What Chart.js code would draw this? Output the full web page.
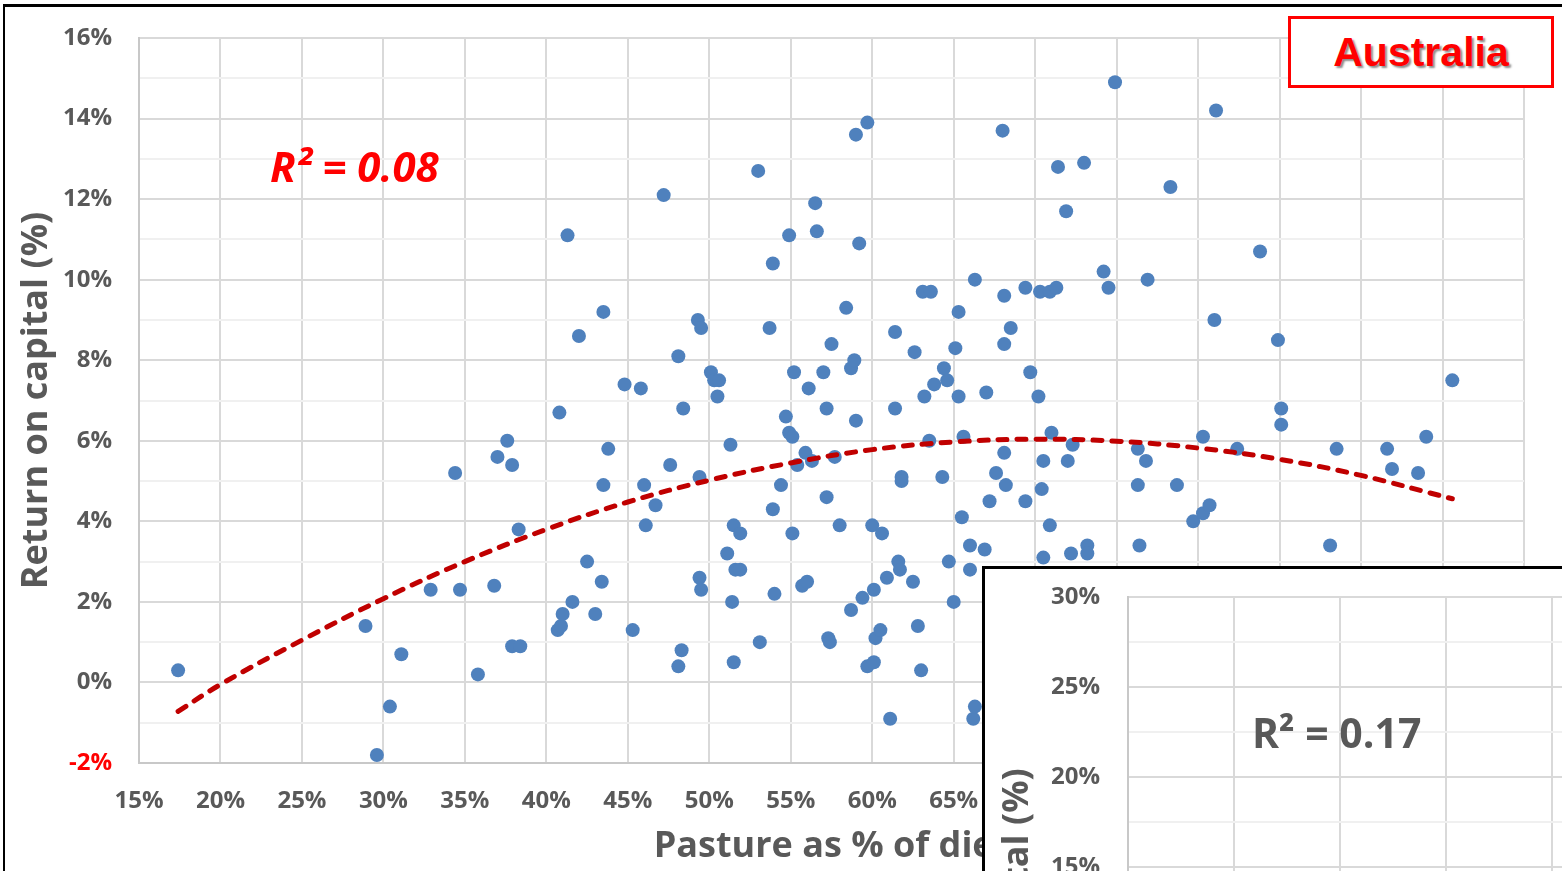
<!DOCTYPE html>
<html>
<head>
<meta charset="utf-8">
<title>Australia - pasture share vs return on capital</title>
<script src="https://cdn.jsdelivr.net/npm/chart.js@4.4.1/dist/chart.umd.min.js"></script>
<style>
  html, body { margin: 0; padding: 0; background: #fff; overflow: hidden; }
  body { width: 1562px; height: 871px; position: relative; font-family: "Open Sans", sans-serif; }
  #main { position: absolute; left: 0; top: 0; }
  #frame { position: absolute; left: 3px; top: 4px; width: 1700px; height: 1000px;
           border-left: 2px solid #000; border-top: 3px solid #000; pointer-events: none; }
  #country { position: absolute; left: 1288px; top: 16px; width: 260px; height: 66px;
             border: 3px solid #f00; background: #fff; display: flex; align-items: center; justify-content: center;
             font-family: "Liberation Sans", Arial, sans-serif; font-weight: bold; font-size: 41px; color: #f00;
             text-shadow: 2px 2px 2px rgba(0,0,0,0.45); }
  #r2main { position: absolute; left: 270px; top: 141px; line-height: 50px; font-size: 42px;
            font-weight: bold; font-style: italic; color: #f00; white-space: nowrap; }
  #inset { position: absolute; left: 982px; top: 566px; width: 700px; height: 400px; overflow: hidden;
           border-left: 3px solid #000; border-top: 3px solid #000; background: #fff; }
  #insetChart { position: absolute; left: 0; top: 0; }
  #r2inset { position: absolute; left: 1252px; top: 707px; line-height: 50px; font-size: 41px;
             font-weight: bold; color: #595959; white-space: nowrap; }
</style>
</head>
<body>
<canvas id="main" width="1562" height="871"></canvas>
<div id="frame"></div>
<div id="country">Australia</div>
<div id="r2main">R² = 0.08</div>
<div id="inset"><canvas id="insetChart" width="1570" height="871"></canvas></div>
<div id="r2inset">R² = 0.17</div>
<script>
// Pasture as % of diet (x) and return on capital % (y)
var pastureShare = [
  17.4, 28.9, 29.6, 30.4, 31.1, 32.9, 34.4, 34.7, 35.8, 36.8,
  37.0, 37.6, 37.9, 37.9, 38.3, 38.4, 40.7, 40.8, 40.9, 41.0,
  41.3, 41.6, 42.0, 42.5, 43.0, 43.4, 43.5, 43.5, 43.8, 44.8,
  45.3, 45.8, 46.0, 46.1, 46.7, 47.2, 47.6, 48.1, 48.1, 48.3,
  48.4, 49.3, 49.4, 49.5, 49.4, 49.5, 50.1, 50.3, 50.6, 50.5,
  51.1, 51.3, 51.4, 51.5, 51.5, 51.6, 51.9, 51.9, 53.0, 53.1,
  53.7, 53.9, 53.9, 54.0, 54.4, 54.7, 54.9, 54.9, 55.1, 55.1,
  55.2, 55.4, 55.7, 55.9, 56.0, 56.1, 56.3, 56.5, 56.6, 57.0,
  57.2, 57.2, 57.3, 57.4, 57.5, 57.7, 58.0, 58.4, 58.7, 58.7,
  58.9, 59.0, 59.0, 59.2, 59.4, 59.7, 59.7, 60.0, 60.1, 60.2,
  60.5, 60.1, 60.6, 60.9, 61.1, 61.4, 61.4, 61.6, 61.7, 61.8,
  61.8, 62.5, 62.6, 62.8, 63.0, 63.1, 63.2, 63.5, 63.6, 63.8,
  64.3, 64.4, 64.6, 64.7, 65.0, 65.1, 65.3, 65.3, 65.5, 65.6,
  66.0, 66.0, 66.2, 66.3, 66.3, 66.9, 67.0, 67.2, 67.6, 68.0,
  68.1, 68.1, 68.1, 68.2, 68.5, 69.4, 69.4, 69.7, 70.2, 70.3,
  70.4, 70.5, 70.5, 70.9, 70.9, 71.0, 71.3, 71.4, 71.9, 72.0,
  72.2, 72.3, 73.0, 73.2, 73.2, 74.2, 74.5, 74.9, 76.3, 76.3,
  76.4, 76.8, 76.9, 78.3, 78.7, 79.7, 80.3, 80.3, 80.7, 81.0,
  81.1, 82.4, 83.8, 84.9, 85.1, 85.1, 88.1, 88.5, 91.6, 91.9,
  93.5, 94.0, 95.6
];
var returnOnCapital = [
  0.3, 1.4, -1.8, -0.6, 0.7, 2.3, 5.2, 2.3, 0.2, 2.4,
  5.6, 6.0, 5.4, 0.9, 3.8, 0.9, 1.3, 6.7, 1.4, 1.7,
  11.1, 2.0, 8.6, 3.0, 1.7, 2.5, 9.2, 4.9, 5.8, 7.4,
  1.3, 7.3, 4.9, 3.9, 4.4, 12.1, 5.4, 8.1, 0.4, 0.8,
  6.8, 9.0, 2.6, 2.3, 5.1, 8.8, 7.7, 7.5, 7.5, 7.1,
  3.2, 5.9, 2.0, 3.9, 0.5, 2.8, 2.8, 3.7, 12.7, 1.0,
  8.8, 10.4, 4.3, 2.2, 4.9, 6.6, 6.2, 11.1, 3.7, 6.1,
  7.7, 5.4, 2.4, 5.7, 2.5, 7.3, 5.5, 11.9, 11.2, 7.7,
  6.8, 4.6, 1.1, 1.0, 8.4, 5.6, 3.9, 9.3, 7.8, 1.8,
  8.0, 6.5, 13.6, 10.9, 2.1, 0.4, 13.9, 3.9, 0.5, 1.1,
  1.3, 2.3, 3.7, 2.6, -0.9, 8.7, 6.8, 3.0, 2.8, 5.1,
  5.0, 2.5, 8.2, 1.4, 0.3, 9.7, 7.1, 6.0, 9.7, 7.4,
  5.1, 7.8, 7.5, 3.0, 2.0, 8.3, 7.1, 9.2, 4.1, 6.1,
  3.4, 2.8, -0.9, -0.6, 10.0, 3.3, 7.2, 4.5, 5.2, 13.7,
  9.6, 8.4, 5.7, 4.9, 8.8, 9.8, 4.5, 7.7, 7.1, 9.7,
  4.8, 5.5, 3.1, 9.7, 3.9, 6.2, 9.8, 12.8, 11.7, 5.5,
  3.2, 5.9, 12.9, 3.4, 3.2, 10.2, 9.8, 14.9, 5.8, 4.9,
  3.4, 5.5, 10.0, 12.3, 4.9, 4.0, 6.1, 4.2, 4.4, 9.0,
  14.2, 5.8, 10.7, 8.5, 6.8, 6.4, 3.4, 5.8, 5.8, 5.3,
  5.2, 6.1, 7.5
];
// dashed trend curve
var trendX = [17.4, 20, 25, 30, 35, 40, 45, 50, 55, 60, 65, 70, 75, 80, 85, 90, 95.6];
var trendY = [-0.72, -0.05, 1.05, 2.08, 3.0, 3.8, 4.48, 5.02, 5.45, 5.78, 5.97, 6.04, 5.99, 5.82, 5.54, 5.14, 4.56];

var grey = '#595959';
var gridMajor = '#d9d9d9';
var gridMinor = '#f0f0f0';
var tickFont = { family: 'Open Sans', size: 24, weight: 'bold' };
var titleFont = { family: 'Open Sans', size: 36, weight: 'bold' };

var points = pastureShare.map(function (x, i) { return { x: x, y: returnOnCapital[i] }; });
var trend = trendX.map(function (x, i) { return { x: x, y: trendY[i] }; });

// tick marks are kept but invisible: their length spaces the labels
// without the extra outer padding that ticks.padding brings in
new Chart(document.getElementById('main').getContext('2d'), {
  type: 'scatter',
  data: {
    datasets: [
      {
        type: 'line',
        label: 'Trend',
        data: trend,
        borderColor: '#c00000',
        borderWidth: 5,
        borderDash: [9, 10],
        borderCapStyle: 'round',
        pointRadius: 0,
        tension: 0.4,
        fill: false,
        order: 0
      },
      {
        label: 'Farms',
        data: points,
        backgroundColor: '#4f81bd',
        borderColor: '#4f81bd',
        pointRadius: 7,
        pointBorderWidth: 0,
        order: 1
      }
    ]
  },
  options: {
    responsive: false,
    animation: false,
    devicePixelRatio: 1,
    layout: { padding: { left: 0, top: 38, right: 38, bottom: 0 } },
    plugins: { legend: { display: false }, tooltip: { enabled: false } },
    scales: {
      x: {
        type: 'linear',
        min: 15,
        max: 100,
        afterFit: function (s) { s.height = 108; },
        ticks: {
          stepSize: 5,
          autoSkip: false,
          maxRotation: 0,
          padding: 0,
          color: grey,
          font: tickFont,
          callback: function (v) { return v + '%'; }
        },
        grid: { color: gridMajor, lineWidth: 2, drawTicks: true, tickLength: 24, tickColor: 'rgba(0,0,0,0)' },
        border: { color: '#c8c8c8', width: 2 },
        title: { display: true, text: 'Pasture as % of diet', color: grey, font: titleFont, padding: { top: 0, bottom: 3 } }
      },
      y: {
        min: -2,
        max: 16,
        afterFit: function (s) { s.width = 139; },
        ticks: {
          stepSize: 1,
          autoSkip: false,
          padding: 0,
          font: tickFont,
          color: function (ctx) { return ctx.tick.value === -2 ? '#ff0000' : grey; },
          callback: function (v) { return v % 2 === 0 ? v + '%' : ''; }
        },
        grid: {
          lineWidth: 2,
          drawTicks: true,
          tickLength: 27,
          tickColor: 'rgba(0,0,0,0)',
          color: function (ctx) { return ctx.tick.value % 2 === 0 ? gridMajor : gridMinor; }
        },
        border: { color: '#c8c8c8', width: 2 },
        title: { display: true, text: 'Return on capital (%)', color: grey, font: titleFont, padding: { top: 15, bottom: 0 } }
      }
    }
  }
});

// inset: top-left corner of a second chart laid over the first
new Chart(document.getElementById('insetChart').getContext('2d'), {
  type: 'scatter',
  data: { datasets: [] },
  options: {
    responsive: false,
    animation: false,
    devicePixelRatio: 1,
    layout: { padding: { left: 0, top: 28, right: 50, bottom: 0 } },
    plugins: { legend: { display: false }, tooltip: { enabled: false } },
    scales: {
      x: {
        type: 'linear',
        min: 0,
        max: 130,
        afterFit: function (s) { s.height = 123; },
        ticks: { stepSize: 10, padding: 0, color: grey, font: tickFont, callback: function (v) { return v + '%'; } },
        grid: { color: gridMajor, lineWidth: 2, drawTicks: true, tickLength: 22, tickColor: 'rgba(0,0,0,0)' },
        border: { color: '#c8c8c8', width: 2 }
      },
      y: {
        min: -10,
        max: 30,
        afterFit: function (s) { s.width = 143; },
        ticks: {
          stepSize: 2.5,
          autoSkip: false,
          padding: 0,
          color: grey,
          font: tickFont,
          callback: function (v) { return v % 5 === 0 ? v + '%' : ''; }
        },
        grid: {
          lineWidth: 2,
          drawTicks: true,
          tickLength: 28,
          tickColor: 'rgba(0,0,0,0)',
          color: function (ctx) { return ctx.tick.value % 5 === 0 ? gridMajor : gridMinor; }
        },
        border: { color: '#c8c8c8', width: 2 },
        title: { display: true, text: 'Return on capital (%)', color: grey, font: titleFont, padding: { top: 11, bottom: 0 } }
      }
    }
  }
});
</script>
</body>
</html>
